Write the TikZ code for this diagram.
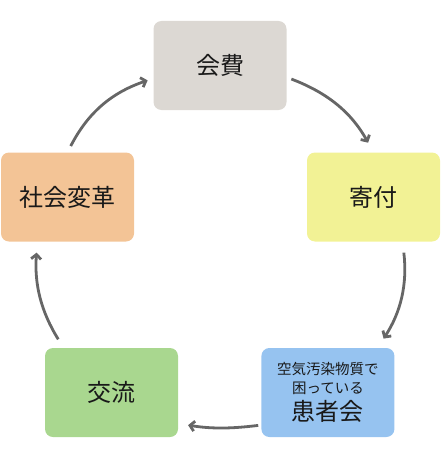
\documentclass[tikz,border=0pt]{standalone}
\usepackage{fontspec}
\newfontfamily\jp{Noto Sans CJK JP}
\usepackage{tikz}
\usetikzlibrary{positioning,arrows.meta}

\definecolor{feegray}{HTML}{DCD8D3}
\definecolor{giftyellow}{HTML}{F2F295}
\definecolor{changeorange}{HTML}{F3C496}
\definecolor{meetgreen}{HTML}{A9D78F}
\definecolor{patientblue}{HTML}{96C3F0}
\definecolor{arrowgray}{HTML}{666666}

\begin{document}
\begin{tikzpicture}[x=1pt, y=1pt,
    box/.style={rounded corners=8pt, minimum width=133pt, minimum height=89pt, inner sep=0pt,
        text=black!90, align=center, font=\jp\fontsize{24}{27}\selectfont},
    cyc/.style={draw=arrowgray, line width=2.8pt, -{Straight Barb[length=4.5pt,width=10pt]}}]
    \useasboundingbox (0,0) rectangle (440,-460);

    \node [box, fill=feegray] (kaihi) at (220,-65.5) {会費};
    \node [box, fill=giftyellow] (kifu) at (373.5,-197) {寄付};
    \node [box, fill=changeorange] (shakai) at (67.5,-197) {社会変革};
    \node [box, fill=meetgreen] (koryu) at (111.5,-392.5) {交流};
    \node [box, fill=patientblue, right=83pt of koryu, font=\jp\fontsize{14.5}{19}\selectfont] (kanja)
        {空気汚染物質で\\困っている\\[4pt]
         \fontsize{24}{27}\selectfont 患者会};

    \draw [cyc, shorten <=5pt, shorten >=11pt] (kaihi.-10) to[bend left=20] (kifu.north);
    \draw [cyc, shorten <=11pt, shorten >=11pt] (kifu.-57) to[bend left=20] (kanja.42);
    \draw [cyc, shorten <=3pt, shorten >=10pt] (kanja.-154) to[bend left=8] (koryu.-25);
    \draw [cyc, shorten <=10pt, shorten >=11pt] (koryu.137) to[bend left=18] (shakai.-124);
    \draw [cyc, shorten <=7pt, shorten >=6pt] (shakai.north) to[bend left=22] (kaihi.-169);
\end{tikzpicture}
\end{document}
